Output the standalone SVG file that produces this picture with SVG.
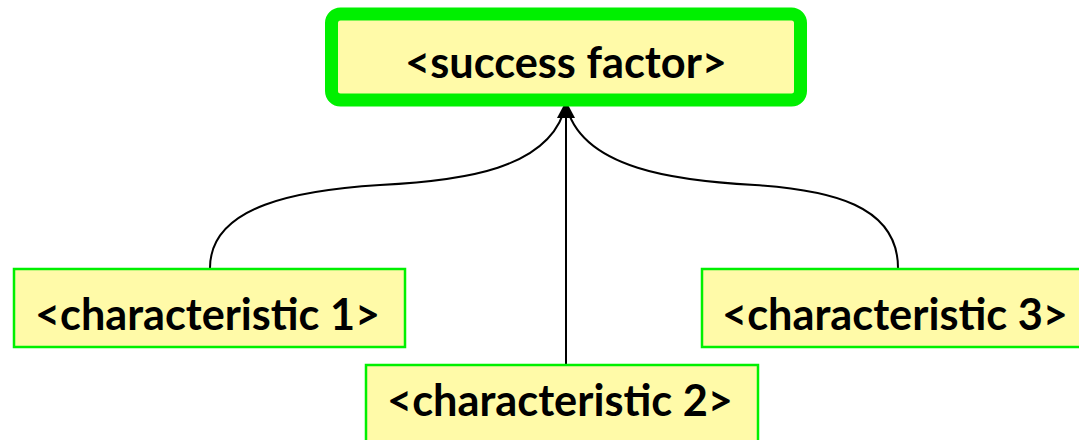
<svg xmlns="http://www.w3.org/2000/svg" width="1079" height="440" viewBox="0 0 1079 440">
  <style>
    .box { fill: #fffaa8; stroke: #00f000; }
    .lbl { font-family: Lato, "Open Sans", "Liberation Sans", sans-serif; font-weight: bold; fill: #000; text-anchor: middle; }
    .conn { fill: none; stroke: #000; stroke-width: 2; }
  </style>
  <defs>
    <marker id="arrow" markerUnits="userSpaceOnUse" markerWidth="20" markerHeight="18" viewBox="0 0 20 18" refX="17" refY="9" orient="auto">
      <path d="M0,0 L17,9 L0,18 Z" fill="#000"/>
    </marker>
  </defs>
  <rect width="1079" height="440" fill="#fff"/>

  <!-- connectors -->
  <g id="connectors">
    <path class="conn" d="M210,268 C210,205 300,190 380,185 C460,181 552,170 566,104"/>
    <path class="conn" d="M898,268 C898,205 830,190 755,185 C680,181 580,170 566,104"/>
    <path class="conn" d="M566,365 L566,101" marker-end="url(#arrow)"/>
  </g>

  <!-- success factor -->
  <g id="node-success">
    <rect class="box" x="331.5" y="14" width="469" height="86" rx="9" stroke-width="13"/>
    <text class="lbl" x="566" y="78" font-size="43" textLength="322" lengthAdjust="spacingAndGlyphs">&lt;success factor&gt;</text>
  </g>

  <g id="node-char1">
    <rect class="box" x="14" y="269" width="391" height="78" stroke-width="2.5"/>
    <text class="lbl" x="207.5" y="330" font-size="43" textLength="345" lengthAdjust="spacingAndGlyphs">&lt;characteristic 1&gt;</text>
  </g>

  <g id="node-char2">
    <rect class="box" x="366" y="365" width="392" height="100" stroke-width="2.5"/>
    <text class="lbl" x="560" y="416" font-size="43" textLength="346" lengthAdjust="spacingAndGlyphs">&lt;characteristic 2&gt;</text>
  </g>

  <g id="node-char3">
    <rect class="box" x="702" y="269" width="400" height="78" stroke-width="2.5"/>
    <text class="lbl" x="895" y="330" font-size="43" textLength="346" lengthAdjust="spacingAndGlyphs">&lt;characteristic 3&gt;</text>
  </g>
</svg>
